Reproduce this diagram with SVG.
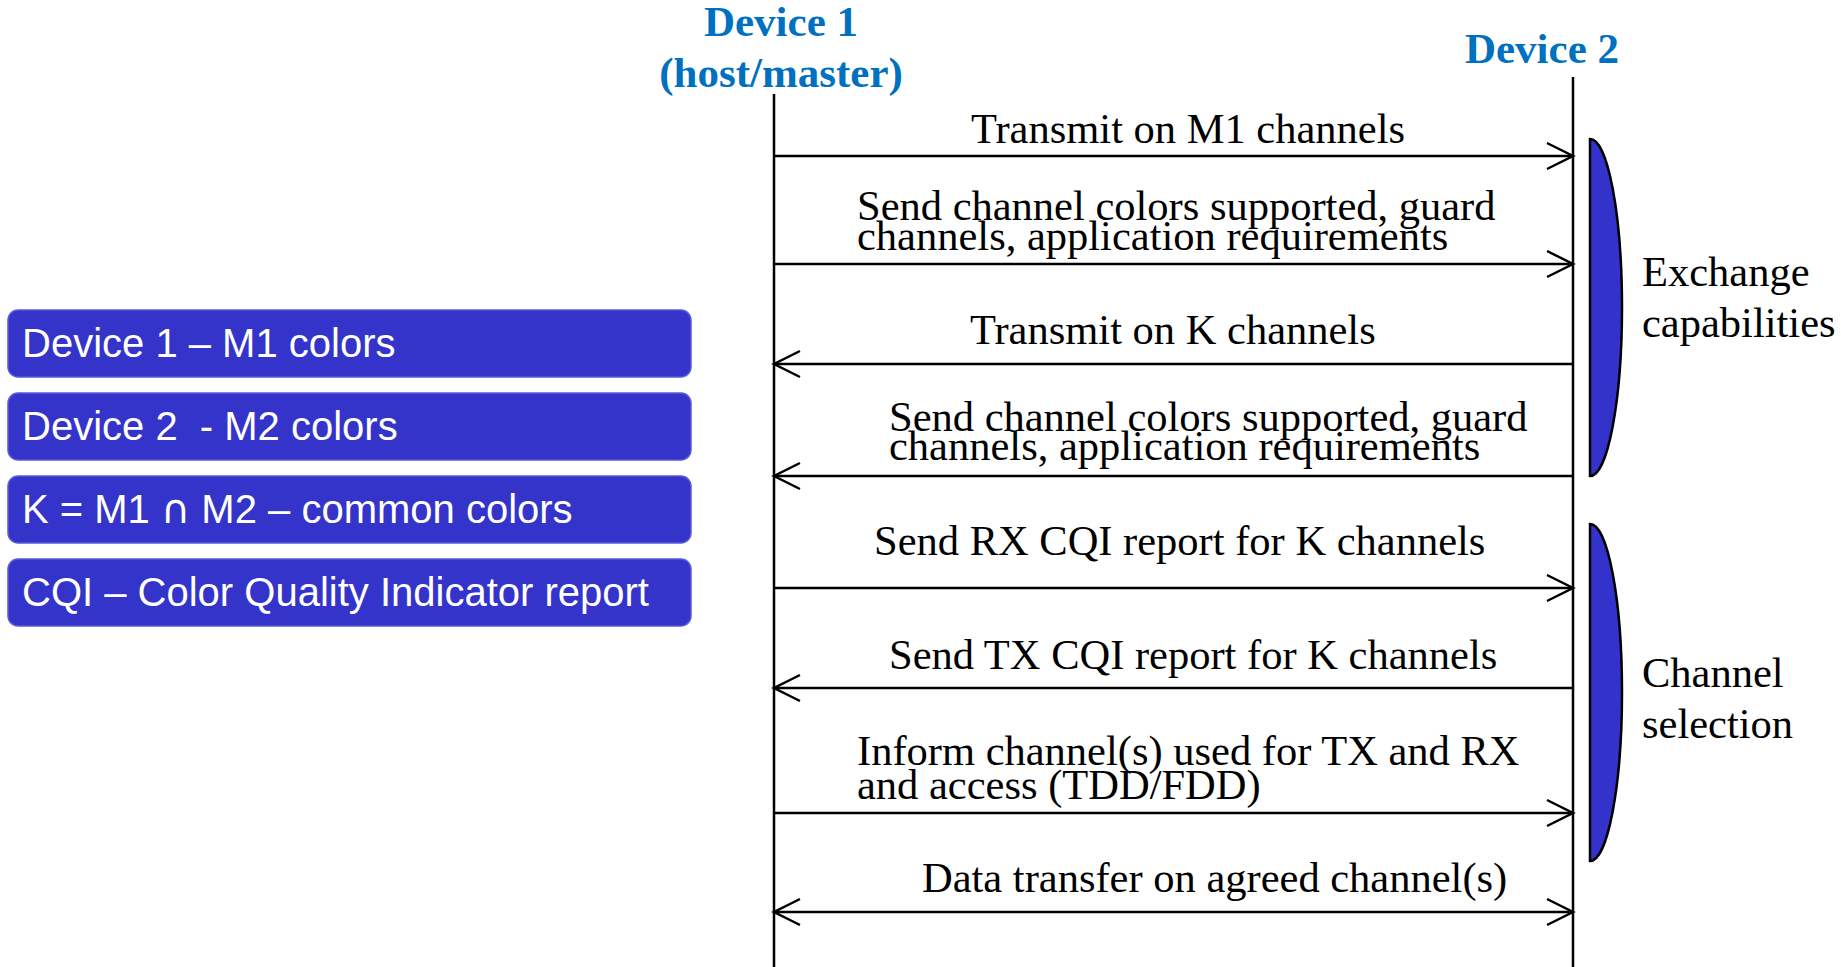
<svg xmlns="http://www.w3.org/2000/svg" width="1841" height="967" viewBox="0 0 1841 967">
  <style>
    .hdr { font-family: "Liberation Serif", "Times New Roman", serif; font-weight: bold; font-size: 43px; fill: #0070C0; text-anchor: middle; }
    .msg { font-family: "Liberation Serif", "Times New Roman", serif; font-size: 42.5px; fill: #000; }
    .box { fill: #3434CA; stroke: #5A5ADC; stroke-width: 1.5; }
    .boxt { font-family: "Liberation Sans", Arial, sans-serif; font-size: 40px; fill: #fff; }
    .cap { font-family: "DejaVu Sans", "Liberation Sans", sans-serif; }
    .life { stroke: #000; stroke-width: 2.5; fill: none; }
    .arr { stroke: #000; stroke-width: 2.5; fill: none; marker-end: url(#ah); }
    .lens { fill: #3333CC; stroke: #000; stroke-width: 2.5; }
  </style>
  <defs>
    <marker id="ah" markerUnits="userSpaceOnUse" markerWidth="32" markerHeight="32" viewBox="-29 -16 32 32" refX="0" refY="0" orient="auto-start-reverse">
      <path d="M-26,-13 L0,0 L-26,13" fill="none" stroke="#000" stroke-width="2.5"/>
    </marker>
  </defs>

  <g id="legend">
    <g id="box1">
      <rect class="box" x="8" y="310" width="683" height="67" rx="10"/>
      <text class="boxt" x="22" y="357">Device 1 – M1 colors</text>
    </g>
    <g id="box2">
      <rect class="box" x="8" y="393" width="683" height="67" rx="10"/>
      <text class="boxt" x="22" y="440" xml:space="preserve">Device 2  - M2 colors</text>
    </g>
    <g id="box3">
      <rect class="box" x="8" y="476" width="683" height="67" rx="10"/>
      <text class="boxt" x="22" y="523">K = M1 <tspan class="cap">∩</tspan> M2 – common colors</text>
    </g>
    <g id="box4">
      <rect class="box" x="8" y="559" width="683" height="67" rx="10"/>
      <text class="boxt" x="22" y="606">CQI – Color Quality Indicator report</text>
    </g>
  </g>

  <g id="device1">
    <text class="hdr" x="781" y="36">Device 1</text>
    <text class="hdr" x="781" y="87">(host/master)</text>
    <line class="life" x1="774" y1="94" x2="774" y2="967"/>
  </g>
  <g id="device2">
    <text class="hdr" x="1542" y="63">Device 2</text>
    <line class="life" x1="1573" y1="77" x2="1573" y2="967"/>
  </g>

  <g id="connectors">
    <line class="arr" x1="774" y1="156" x2="1573" y2="156"/>
    <line class="arr" x1="774" y1="264" x2="1573" y2="264"/>
    <line class="arr" x1="1573" y1="364" x2="774" y2="364"/>
    <line class="arr" x1="1573" y1="476" x2="774" y2="476"/>
    <line class="arr" x1="774" y1="588" x2="1573" y2="588"/>
    <line class="arr" x1="1573" y1="688" x2="774" y2="688"/>
    <line class="arr" x1="774" y1="813" x2="1573" y2="813"/>
    <line class="arr" x1="774" y1="912" x2="1573" y2="912" style="marker-start: url(#ah);"/>
  </g>

  <g id="labels">
    <text class="msg" x="971" y="143">Transmit on M1 channels</text>
    <text class="msg" x="857" y="220">Send channel colors supported, guard</text>
    <text class="msg" x="857" y="250">channels, application requirements</text>
    <text class="msg" x="970" y="344">Transmit on K channels</text>
    <text class="msg" x="889" y="431">Send channel colors supported, guard</text>
    <text class="msg" x="889" y="460">channels, application requirements</text>
    <text class="msg" x="874" y="555">Send RX CQI report for K channels</text>
    <text class="msg" x="889" y="669">Send TX CQI report for K channels</text>
    <text class="msg" x="857" y="765">Inform channel(s) used for TX and RX</text>
    <text class="msg" x="857" y="799">and access (TDD/FDD)</text>
    <text class="msg" x="922" y="892">Data transfer on agreed channel(s)</text>
  </g>

  <g id="phase-exchange">
    <path class="lens" d="M1590,139 A32,168.5 0 0 1 1590,476 Z"/>
    <text class="msg" x="1642" y="286">Exchange</text>
    <text class="msg" x="1642" y="337">capabilities</text>
  </g>
  <g id="phase-selection">
    <path class="lens" d="M1590,524 A32,168.5 0 0 1 1590,861 Z"/>
    <text class="msg" x="1642" y="687">Channel</text>
    <text class="msg" x="1642" y="738">selection</text>
  </g>
</svg>
